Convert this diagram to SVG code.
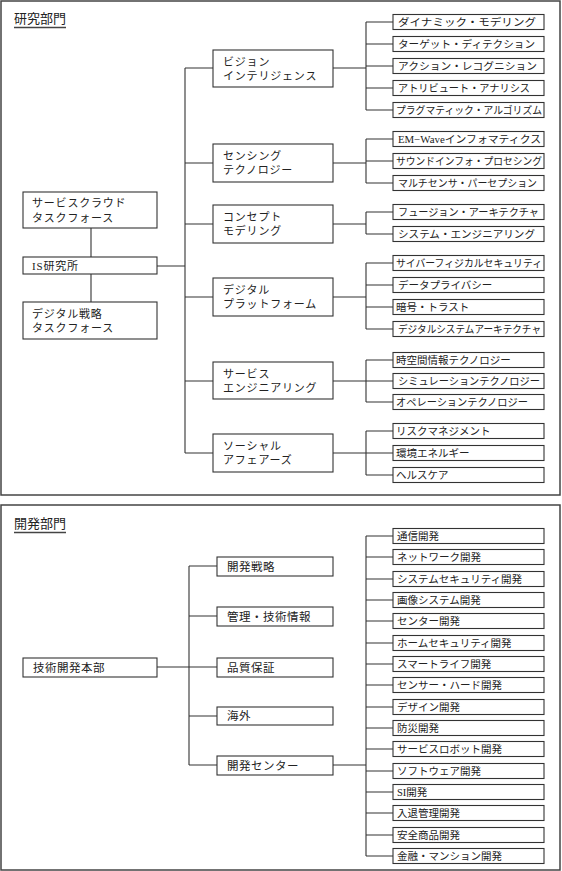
<svg xmlns="http://www.w3.org/2000/svg" width="562" height="871" viewBox="0 0 562 871">
<style>
.frame{fill:none;stroke:#444;stroke-width:1.5}
.box{fill:#fff;stroke:#333;stroke-width:1.1}
.sh{fill:#999}
.ln{fill:none;stroke:#333;stroke-width:1.1}
text{font-family:"Liberation Serif","Noto Sans CJK JP",serif;fill:#222;dominant-baseline:central}
.t{font-size:13px}
.m{font-size:11px;letter-spacing:0.8px}
.r{font-size:10.5px}
.b{font-size:11.5px;letter-spacing:0.5px}
.ul{stroke:#444;stroke-width:1.5}
</style>
<rect width="562" height="871" fill="#fff"/>
<rect class="frame" x="1" y="1" width="559" height="494"/>
<rect class="frame" x="1" y="505" width="559" height="365"/>
<g id="title-research"><text class="t" x="14" y="18">研究部門</text><line class="ul" x1="14" y1="27.5" x2="66" y2="27.5"/></g>
<g id="title-dev"><text class="t" x="14" y="523">開発部門</text><line class="ul" x1="14" y1="532.5" x2="66" y2="532.5"/></g>

<g id="connectors">
<path class="ln" d="M185,68V453 M185,68H213 M185,163H213 M185,224H213 M185,297H213 M185,381H213 M185,453H213 M157,266H185 M91,228V257 M91,274V302"/>
<path class="ln" d="M333,68H366 M366,22V110 M366,22H393 M366,44H393 M366,66H393 M366,88H393 M366,110H393"/>
<path class="ln" d="M333,163H366 M366,139V183 M366,139H393 M366,161H393 M366,183H393"/>
<path class="ln" d="M333,224H366 M366,212V234 M366,212H393 M366,234H393"/>
<path class="ln" d="M333,297H366 M366,263V329 M366,263H393 M366,285H393 M366,307H393 M366,329H393"/>
<path class="ln" d="M333,381H366 M366,360V402 M366,360H393 M366,381H393 M366,402H393"/>
<path class="ln" d="M333,453H366 M366,431V475 M366,431H393 M366,453H393 M366,475H393"/>
<path class="ln" d="M189,566V765 M189,566H217 M189,616H217 M189,667H217 M189,716H217 M189,765H217 M157,667H189"/>
<path class="ln" d="M333,765H366 M366,536V856 M366,536H393 M366,557H393 M366,579H393 M366,600H393 M366,621H393 M366,643H393 M366,664H393 M366,685H393 M366,707H393 M366,728H393 M366,749H393 M366,771H393 M366,792H393 M366,813H393 M366,835H393 M366,856H393"/>
</g>

<g id="n-cloud"><rect class="box" x="23" y="192" width="134" height="36"/><text class="m" x="32" y="203">サービスクラウド</text><text class="m" x="32" y="218">タスクフォース</text></g>
<g id="n-is"><rect class="box" x="23" y="257" width="134" height="17"/><text class="m" x="32" y="265.5">IS研究所</text></g>
<g id="n-dstrat"><rect class="box" x="23" y="302" width="134" height="37"/><text class="m" x="32" y="314">デジタル戦略</text><text class="m" x="32" y="328">タスクフォース</text></g>

<g id="n-vision"><rect class="box" x="213" y="50" width="120" height="37"/><text class="m" x="223" y="62">ビジョン</text><text class="m" x="223" y="76">インテリジェンス</text></g>
<g id="n-sensing"><rect class="box" x="213" y="144" width="120" height="38"/><text class="m" x="223" y="156">センシング</text><text class="m" x="223" y="170">テクノロジー</text></g>
<g id="n-concept"><rect class="box" x="213" y="205" width="120" height="38"/><text class="m" x="223" y="217">コンセプト</text><text class="m" x="223" y="231">モデリング</text></g>
<g id="n-platform"><rect class="box" x="213" y="278" width="120" height="38"/><text class="m" x="223" y="290">デジタル</text><text class="m" x="223" y="304">プラットフォーム</text></g>
<g id="n-serveng"><rect class="box" x="213" y="362" width="120" height="37"/><text class="m" x="223" y="374">サービス</text><text class="m" x="223" y="388">エンジニアリング</text></g>
<g id="n-social"><rect class="box" x="213" y="434" width="120" height="38"/><text class="m" x="223" y="446">ソーシャル</text><text class="m" x="223" y="460">アフェアーズ</text></g>

<g id="n-r1"><rect class="box" x="393" y="14.5" width="151" height="15"/><text class="r" x="398" y="22" textLength="138" lengthAdjust="spacingAndGlyphs">ダイナミック・モデリング</text></g>
<g id="n-r2"><rect class="box" x="393" y="36.5" width="151" height="15"/><text class="r" x="398" y="44" textLength="137" lengthAdjust="spacingAndGlyphs">ターゲット・ディテクション</text></g>
<g id="n-r3"><rect class="box" x="393" y="58.5" width="151" height="15"/><text class="r" x="398" y="66" textLength="139" lengthAdjust="spacingAndGlyphs">アクション・レコグニション</text></g>
<g id="n-r4"><rect class="box" x="393" y="80.5" width="151" height="15"/><text class="r" x="398" y="88" textLength="132" lengthAdjust="spacingAndGlyphs">アトリビュート・アナリシス</text></g>
<g id="n-r5"><rect class="box" x="393" y="102.5" width="151" height="15"/><text class="r" x="396" y="110" textLength="146" lengthAdjust="spacingAndGlyphs">プラグマティック・アルゴリズム</text></g>
<g id="n-r6"><rect class="box" x="393" y="131.5" width="151" height="15"/><text class="r" x="398" y="139" textLength="143" lengthAdjust="spacingAndGlyphs">EM−Waveインフォマティクス</text></g>
<g id="n-r7"><rect class="box" x="393" y="153.5" width="151" height="15"/><text class="r" x="396" y="161" textLength="146" lengthAdjust="spacingAndGlyphs">サウンドインフォ・プロセシング</text></g>
<g id="n-r8"><rect class="box" x="393" y="175.5" width="151" height="15"/><text class="r" x="398" y="183" textLength="139" lengthAdjust="spacingAndGlyphs">マルチセンサ・パーセプション</text></g>
<g id="n-r9"><rect class="box" x="393" y="204.5" width="151" height="15"/><text class="r" x="398" y="212" textLength="141" lengthAdjust="spacingAndGlyphs">フュージョン・アーキテクチャ</text></g>
<g id="n-r10"><rect class="box" x="393" y="226.5" width="151" height="15"/><text class="r" x="398" y="234" textLength="137" lengthAdjust="spacingAndGlyphs">システム・エンジニアリング</text></g>
<g id="n-r11"><rect class="box" x="393" y="255.5" width="151" height="15"/><text class="r" x="396" y="263" textLength="146" lengthAdjust="spacingAndGlyphs">サイバーフィジカルセキュリティ</text></g>
<g id="n-r12"><rect class="box" x="393" y="277.5" width="151" height="15"/><text class="r" x="398" y="285">データプライバシー</text></g>
<g id="n-r13"><rect class="box" x="393" y="299.5" width="151" height="15"/><text class="r" x="396" y="307">暗号・トラスト</text></g>
<g id="n-r14"><rect class="box" x="393" y="321.5" width="151" height="15"/><text class="r" x="398" y="329" textLength="143" lengthAdjust="spacingAndGlyphs">デジタルシステムアーキテクチャ</text></g>
<g id="n-r15"><rect class="box" x="393" y="352.5" width="151" height="15"/><text class="r" x="396" y="360">時空間情報テクノロジー</text></g>
<g id="n-r16"><rect class="box" x="393" y="373.5" width="151" height="15"/><text class="r" x="398" y="381" textLength="142" lengthAdjust="spacingAndGlyphs">シミュレーションテクノロジー</text></g>
<g id="n-r17"><rect class="box" x="393" y="394.5" width="151" height="15"/><text class="r" x="396" y="402" textLength="132" lengthAdjust="spacingAndGlyphs">オペレーションテクノロジー</text></g>
<g id="n-r18"><rect class="box" x="393" y="423.5" width="151" height="15"/><text class="r" x="396" y="431">リスクマネジメント</text></g>
<g id="n-r19"><rect class="box" x="393" y="445.5" width="151" height="15"/><text class="r" x="396" y="453">環境エネルギー</text></g>
<g id="n-r20"><rect class="box" x="393" y="467.5" width="151" height="15"/><text class="r" x="396" y="475">ヘルスケア</text></g>

<g id="n-hq"><rect class="box" x="23" y="658" width="134" height="19"/><text class="b" x="33" y="667.5">技術開発本部</text></g>
<g id="n-d1"><rect class="box" x="217" y="557" width="116" height="19"/><text class="b" x="227" y="566.5">開発戦略</text></g>
<g id="n-d2"><rect class="box" x="217" y="607" width="116" height="19"/><text class="b" x="227" y="616.5">管理・技術情報</text></g>
<g id="n-d3"><rect class="box" x="217" y="658" width="116" height="19"/><text class="b" x="227" y="667.5">品質保証</text></g>
<g id="n-d4"><rect class="box" x="217" y="707" width="116" height="18"/><text class="b" x="227" y="716">海外</text></g>
<g id="n-d5"><rect class="box" x="217" y="756" width="116" height="19"/><text class="b" x="227" y="765.5">開発センター</text></g>

<g id="n-c1"><rect class="box" x="393" y="528.5" width="151" height="15"/><text class="r" x="397" y="536">通信開発</text></g>
<g id="n-c2"><rect class="box" x="393" y="549.5" width="151" height="15"/><text class="r" x="397" y="557">ネットワーク開発</text></g>
<g id="n-c3"><rect class="box" x="393" y="571.5" width="151" height="15"/><text class="r" x="397" y="579">システムセキュリティ開発</text></g>
<g id="n-c4"><rect class="box" x="393" y="592.5" width="151" height="15"/><text class="r" x="397" y="600">画像システム開発</text></g>
<g id="n-c5"><rect class="box" x="393" y="613.5" width="151" height="15"/><text class="r" x="397" y="621">センター開発</text></g>
<g id="n-c6"><rect class="box" x="393" y="635.5" width="151" height="15"/><text class="r" x="397" y="643">ホームセキュリティ開発</text></g>
<g id="n-c7"><rect class="box" x="393" y="656.5" width="151" height="15"/><text class="r" x="397" y="664">スマートライフ開発</text></g>
<g id="n-c8"><rect class="box" x="393" y="677.5" width="151" height="15"/><text class="r" x="397" y="685">センサー・ハード開発</text></g>
<g id="n-c9"><rect class="box" x="393" y="699.5" width="151" height="15"/><text class="r" x="397" y="707">デザイン開発</text></g>
<g id="n-c10"><rect class="box" x="393" y="720.5" width="151" height="15"/><text class="r" x="397" y="728">防災開発</text></g>
<g id="n-c11"><rect class="box" x="393" y="741.5" width="151" height="15"/><text class="r" x="397" y="749">サービスロボット開発</text></g>
<g id="n-c12"><rect class="box" x="393" y="763.5" width="151" height="15"/><text class="r" x="397" y="771">ソフトウェア開発</text></g>
<g id="n-c13"><rect class="box" x="393" y="784.5" width="151" height="15"/><text class="r" x="397" y="792">SI開発</text></g>
<g id="n-c14"><rect class="box" x="393" y="805.5" width="151" height="15"/><text class="r" x="397" y="813">入退管理開発</text></g>
<g id="n-c15"><rect class="box" x="393" y="827.5" width="151" height="15"/><text class="r" x="397" y="835">安全商品開発</text></g>
<g id="n-c16"><rect class="box" x="393" y="848.5" width="151" height="15"/><text class="r" x="397" y="856">金融・マンション開発</text></g>
</svg>
